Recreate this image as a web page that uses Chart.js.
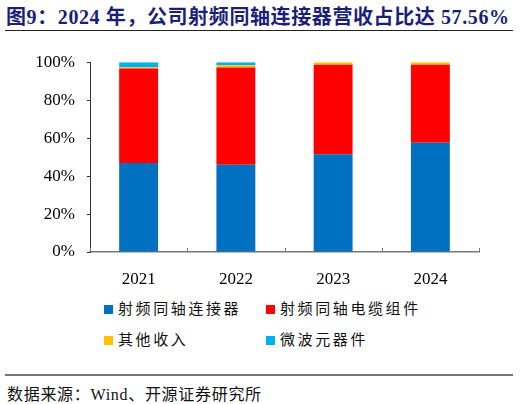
<!DOCTYPE html>
<html>
<head>
<meta charset="utf-8">
<script src="https://cdn.jsdelivr.net/npm/chart.js@4.4.1/dist/chart.umd.min.js"></script>
<style>
body{margin:0;background:#fff;width:522px;height:404px;position:relative;overflow:hidden;font-family:"Liberation Serif","Noto Sans CJK SC",serif;}
#title{position:absolute;left:6px;top:1px;font-size:20px;font-weight:bold;color:#1c1f7a;white-space:nowrap;letter-spacing:0.6px;}
#line1{position:absolute;left:5px;top:30px;width:508px;height:1px;background:#222;}
#wrap{position:absolute;left:0;top:40px;width:522px;height:250px;}
#legend{position:absolute;left:104px;top:300px;width:340px;}
.item{position:absolute;font-size:15px;letter-spacing:2.6px;color:#111;white-space:nowrap;line-height:18px;}
.item i{display:inline-block;width:9px;height:9px;margin-right:5px;vertical-align:0px;}
#line2{position:absolute;left:5px;top:374px;width:508px;height:1.5px;background:#777;}
#src{position:absolute;left:7px;top:381px;font-size:16px;color:#111;letter-spacing:0.7px;white-space:nowrap;}
</style>
</head>
<body>
<div id="title">图9：2024 年，公司射频同轴连接器营收占比达 57.56%</div>
<div id="line1"></div>
<div id="wrap"><canvas id="c"></canvas></div>
<div id="legend"></div>
<div id="line2"></div>
<div id="src">数据来源：Wind、开源证券研究所</div>
<script>
const years = ['2021', '2022', '2023', '2024'];
const connector = [46.9, 46.0, 51.5, 57.56];
const cableAssembly = [49.8, 51.2, 47.1, 41.04];
const otherIncome = [0.6, 1.2, 1.4, 1.4];
const microwave = [2.7, 1.6, 0, 0];
const seriesNames = ['射频同轴连接器', '射频同轴电缆组件', '其他收入', '微波元器件'];
const seriesColors = ['#0070C0', '#FF0000', '#FFC000', '#00B0F0'];
const yTicks = [0, 20, 40, 60, 80, 100];

const serif = '"Liberation Serif", "Noto Sans CJK SC", serif';

// small upward ticks between categories on the x axis
const catTicks = {
  id: 'catTicks',
  afterDraw(chart){
    const x = chart.scales.x, ctx = chart.ctx;
    const bottom = chart.chartArea.bottom;
    ctx.save();
    ctx.strokeStyle = '#777';
    ctx.lineWidth = 1;
    for (let i = 0; i <= years.length; i++) {
      const px = Math.round(x.getPixelForValue(i - 0.5)) + 0.5;
      ctx.beginPath();
      ctx.moveTo(px, bottom);
      ctx.lineTo(px, bottom - 4);
      ctx.stroke();
    }
    ctx.restore();
  }
};

const sets = [connector, cableAssembly, otherIncome, microwave].map((d, i) => ({
  label: seriesNames[i],
  data: d,
  backgroundColor: seriesColors[i],
  borderWidth: 0,
  categoryPercentage: 1,
  barPercentage: 0.4
}));

new Chart(document.getElementById('c'), {
  type: 'bar',
  data: {labels: years, datasets: sets},
  plugins: [catTicks],
  options: {
    responsive: true,
    maintainAspectRatio: false,
    animation: false,
    layout: {padding: {left: 0, right: 43, top: 11, bottom: 0}},
    plugins: {legend: {display: false}, tooltip: {enabled: false}},
    scales: {
      x: {
        stacked: true,
        offset: true,
        grid: {display: false},
        border: {color: '#777', width: 1.5},
        ticks: {color: '#000', font: {family: serif, size: 17}, padding: 9},
        afterFit(s){ s.height = 38; }
      },
      y: {
        stacked: true,
        min: 0,
        max: 100,
        afterBuildTicks(s){ s.ticks = yTicks.map(v => ({value: v})); },
        grid: {drawOnChartArea: false, tickLength: 3, color: '#333'},
        border: {color: '#333', width: 1},
        ticks: {color: '#000', font: {family: serif, size: 17}, padding: 12, callback: v => v + '%'},
        afterFit(s){ s.width = 90; }
      }
    }
  }
});

const lg = document.getElementById('legend');
const pos = [[0, 0], [162, 0], [0, 31], [162, 31]];
seriesNames.forEach((n, i) => {
  const d = document.createElement('div');
  d.className = 'item';
  d.style.left = pos[i][0] + 'px';
  d.style.top = pos[i][1] + 'px';
  d.innerHTML = '<i style="background:' + seriesColors[i] + '"></i>' + n;
  lg.appendChild(d);
});
</script>
</body>
</html>
